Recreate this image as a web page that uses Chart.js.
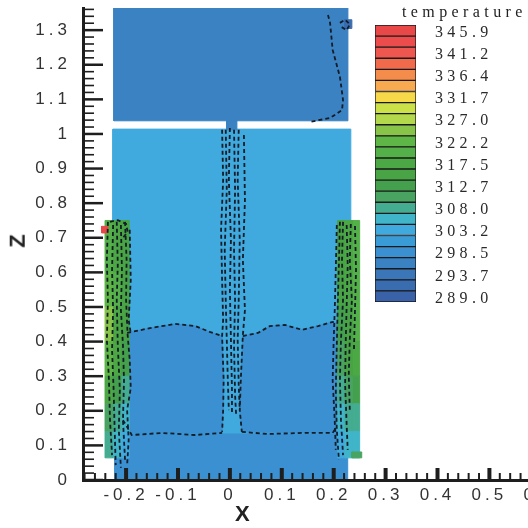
<!DOCTYPE html>
<html>
<head>
<meta charset="utf-8">
<script src="https://cdn.jsdelivr.net/npm/chart.js@4.4.1/dist/chart.umd.min.js"></script>
<style>
    html, body { margin: 0; padding: 0; background: #fff; overflow: hidden; }
    #wrap { position: relative; width: 528px; height: 528px; overflow: hidden; }
    #field { position: absolute; left: 0; top: 0; }
    #key { position: absolute; left: 370px; top: 0; }
    .axis-title { position: absolute; font: bold 22px "Liberation Sans", Arial, sans-serif; line-height: 22px; color: #222; }
    #xTitle { left: 235px; top: 503px; }
    #zTitle { left: 11px; top: 230px; transform: rotate(-90deg); }
    #keyTitle { position: absolute; left: 402px; top: 4px; font: 16px "Liberation Serif", "Times New Roman", serif; line-height: 16px; letter-spacing: 4.4px; color: #222; white-space: nowrap; }
</style>
</head>
<body>
<div id="wrap">
    <canvas id="field" width="560" height="528"></canvas>
    <canvas id="key" width="158" height="320"></canvas>
    <div id="xTitle" class="axis-title">X</div>
    <div id="zTitle" class="axis-title">Z</div>
    <div id="keyTitle">temperature</div>
</div>
<script>
// temperature key, hottest band first
const bandColors = [
    '#e84848', '#ec4c4c', '#ee5650', '#f26a4c', '#f48c4c', '#f8aa50', '#f6d848',
    '#cce048', '#b4d84c', '#88c448', '#5eb646', '#54b048', '#4ca844', '#48a444',
    '#44a04c', '#48a460', '#44ac90', '#40b4c8', '#40aade', '#3a9cd6', '#3a90d0',
    '#3a82c2', '#3a76b8', '#3a6cb0', '#3a62a8'
];
const keyLevels = [345.9, 341.2, 336.4, 331.7, 327.0, 322.2, 317.5, 312.7, 308.0, 303.2, 298.5, 293.7, 289.0];

// axes
const xTicks = [-0.2, -0.1, 0, 0.1, 0.2, 0.3, 0.4, 0.5, 0.6];
const zTicks = [0, 0.1, 0.2, 0.3, 0.4, 0.5, 0.6, 0.7, 0.8, 0.9, 1.0, 1.1, 1.2, 1.3];
const xRange = [-0.283, 0.636];
const zRange = [0, 1.364];

// uniform zones: temperature of each block
const upperTemp = 296.0;
const middleTemp = 303.4;
const lowerTemp = 298.8;
const baseTemp = 299.6;

// heated wall strips: z rows, x columns, temperatures per column (bottom row first)
const stripZ = [0.064, 0.14, 0.22, 0.30, 0.40, 0.50, 0.60, 0.75];
const leftStripX = [-0.240, -0.226, -0.210, -0.194];
const leftStripT = [
    [307, 311, 318, 323, 324, 323, 320],
    [305, 308, 313, 317, 318, 319, 318],
    [304, 305, 309, 312, 314, 316, 316]
];
const rightStripX = [0.208, 0.220, 0.236, 0.250];
const rightStripT = [
    [304, 305, 307, 310, 313, 315, 316],
    [305, 307, 310, 314, 316, 318, 318],
    [306, 309, 313, 317, 319, 320, 319]
];

// isotherms (x, z)
const shelfLeft = [[-0.198, 0.425], [-0.154, 0.439], [-0.106, 0.451], [-0.067, 0.445], [-0.039, 0.428], [-0.015, 0.416]];
const shelfRight = [[0.025, 0.416], [0.054, 0.425], [0.077, 0.445], [0.106, 0.448], [0.139, 0.434], [0.170, 0.445], [0.198, 0.457], [0.204, 0.454]];
const floorLeft = [[-0.206, 0.173], [-0.189, 0.130], [-0.131, 0.136], [-0.067, 0.130], [-0.015, 0.136]];
const floorRight = [[0.023, 0.139], [0.073, 0.133], [0.139, 0.136], [0.198, 0.136], [0.204, 0.150]];
const centreLines = [
    [[-0.015, 1.012], [-0.013, 0.867], [-0.017, 0.723], [-0.015, 0.578], [-0.013, 0.462], [-0.015, 0.416], [-0.012, 0.289], [-0.013, 0.202], [-0.015, 0.139]],
    [[-0.008, 1.012], [-0.006, 0.838], [-0.010, 0.665], [-0.008, 0.520], [-0.006, 0.405], [-0.004, 0.289], [-0.002, 0.202]],
    [[0.000, 1.017], [-0.002, 0.867], [0.002, 0.694], [0.000, 0.549], [0.002, 0.405], [0.004, 0.260], [0.004, 0.188]],
    [[0.008, 1.012], [0.010, 0.838], [0.008, 0.665], [0.010, 0.520], [0.008, 0.390], [0.010, 0.246], [0.012, 0.188]],
    [[0.017, 1.012], [0.015, 0.867], [0.019, 0.694], [0.017, 0.520], [0.015, 0.405], [0.017, 0.275], [0.019, 0.202]],
    [[0.027, 0.997], [0.029, 0.809], [0.025, 0.636], [0.029, 0.491], [0.025, 0.419], [0.021, 0.289], [0.019, 0.202], [0.023, 0.139]]
];
const leftWallLines = [
    [[-0.235, 0.746], [-0.237, 0.636], [-0.235, 0.520], [-0.237, 0.405], [-0.233, 0.289], [-0.231, 0.173], [-0.227, 0.072]],
    [[-0.225, 0.737], [-0.227, 0.607], [-0.225, 0.491], [-0.227, 0.376], [-0.224, 0.260], [-0.222, 0.145], [-0.220, 0.043]],
    [[-0.218, 0.746], [-0.216, 0.621], [-0.218, 0.520], [-0.216, 0.390], [-0.212, 0.260], [-0.214, 0.145], [-0.210, 0.035]],
    [[-0.210, 0.737], [-0.208, 0.607], [-0.210, 0.491], [-0.206, 0.390], [-0.204, 0.289], [-0.206, 0.173], [-0.202, 0.058]],
    [[-0.202, 0.746], [-0.199, 0.636], [-0.200, 0.520], [-0.197, 0.419], [-0.193, 0.347], [-0.191, 0.266], [-0.198, 0.202], [-0.195, 0.116], [-0.198, 0.043]],
    [[-0.193, 0.723], [-0.191, 0.578], [-0.195, 0.462], [-0.191, 0.425]],
    [[-0.231, 0.746], [-0.216, 0.751], [-0.200, 0.740], [-0.197, 0.717], [-0.206, 0.700]]
];
const rightWallLines = [
    [[0.206, 0.737], [0.204, 0.607], [0.202, 0.491], [0.200, 0.405], [0.198, 0.289], [0.202, 0.173], [0.204, 0.087]],
    [[0.212, 0.746], [0.210, 0.621], [0.208, 0.520], [0.206, 0.390], [0.204, 0.260], [0.206, 0.145], [0.210, 0.058]],
    [[0.218, 0.746], [0.216, 0.636], [0.218, 0.520], [0.214, 0.405], [0.212, 0.289], [0.214, 0.173], [0.218, 0.072]],
    [[0.225, 0.737], [0.227, 0.621], [0.225, 0.506], [0.223, 0.390], [0.222, 0.275], [0.225, 0.159], [0.227, 0.087]],
    [[0.233, 0.740], [0.231, 0.636], [0.235, 0.520], [0.231, 0.405], [0.229, 0.303], [0.231, 0.202]],
    [[0.241, 0.734], [0.243, 0.607], [0.241, 0.491], [0.239, 0.376]]
];
const upperLines = [
    [[0.189, 1.344], [0.193, 1.321], [0.198, 1.243], [0.212, 1.165], [0.218, 1.098], [0.216, 1.069], [0.193, 1.046], [0.154, 1.035]],
    [[0.212, 1.321], [0.222, 1.330], [0.231, 1.317], [0.225, 1.300], [0.214, 1.310]]
];

function tempColor(t) {
    const top = keyLevels[0];
    const step = (top - keyLevels[keyLevels.length - 1]) / (bandColors.length - 1);
    const i = Math.round((top - t) / step);
    return bandColors[Math.max(0, Math.min(bandColors.length - 1, i))];
}

const toXY = p => ({x: p[0], y: p[1]});
const fieldSets = [];

function box(x0, x1, z0, z1) {
    return [[x0, z0], [x1, z0], [x1, z1], [x0, z1]];
}

function patch(points, temp, order) {
    const color = tempColor(temp);
    fieldSets.push({
        data: points.concat([points[0]]).map(toXY),
        fill: 'shape',
        backgroundColor: color,
        borderColor: color,
        borderWidth: 1,
        pointRadius: 0,
        order: order
    });
}

function isotherm(points) {
    fieldSets.push({
        data: points.map(toXY),
        fill: false,
        borderColor: '#141c28',
        borderWidth: 1.8,
        borderDash: [4, 3],
        pointRadius: 0,
        order: 0
    });
}

// blocks
patch(box(-0.2235, 0.2274, 1.038, 1.364), upperTemp, 40);
patch(box(-0.006, 0.0135, 1.012, 1.040), upperTemp, 40);
patch(box(-0.2254, 0.233, 0.136, 1.014), middleTemp, 40);
patch(box(-0.2216, 0.227, 0, 0.136), baseTemp, 40);
patch([[-0.2254, 0.425]].concat(shelfLeft, [[-0.012, 0.289], [-0.013, 0.202], [-0.015, 0.136], [-0.2254, 0.136]]), lowerTemp, 30);
patch(shelfRight.concat([[0.233, 0.454], [0.233, 0.136], [0.023, 0.139], [0.019, 0.202], [0.021, 0.289]]), lowerTemp, 30);

// wall strips
function strip(xs, temps) {
    temps.forEach((col, c) => {
        col.forEach((t, r) => patch(box(xs[c], xs[c + 1], stripZ[r], stripZ[r + 1]), t, 20));
    });
}
strip(leftStripX, leftStripT);
strip(rightStripX, rightStripT);

// small hot and cold spots
patch(box(-0.247, -0.235, 0.714, 0.733), 345.0, 10);
patch(box(0.235, 0.254, 0.064, 0.081), 310.0, 10);
patch(box(0.221, 0.235, 1.305, 1.330), 292.5, 10);

[shelfLeft, shelfRight, floorLeft, floorRight].forEach(isotherm);
centreLines.forEach(isotherm);
leftWallLines.forEach(isotherm);
rightWallLines.forEach(isotherm);
upperLines.forEach(isotherm);

const fmt = v => String(+v.toFixed(1));
const tickFont = {family: '"Liberation Sans Narrow", "Liberation Sans", Arial, sans-serif', size: 17};

// canvas letter spacing for the spaced-out labels
const spacing = {
    id: 'spacing',
    beforeLayout(chart, args, opts) { chart.ctx.letterSpacing = opts.px + 'px'; },
    beforeDraw(chart, args, opts) { chart.ctx.letterSpacing = opts.px + 'px'; }
};

// inward tick marks, long on the labelled values, short every 0.02
const axisMarks = {
    id: 'axisMarks',
    afterDraw(chart) {
        const {ctx, chartArea, scales: {x, y}} = chart;
        ctx.save();
        ctx.strokeStyle = '#1e1e1e';
        const tick = (x0, y0, x1, y1, w) => {
            ctx.lineWidth = w;
            ctx.beginPath();
            ctx.moveTo(x0, y0);
            ctx.lineTo(x1, y1);
            ctx.stroke();
        };
        for (let i = Math.ceil(xRange[0] / 0.02); i <= Math.floor(xRange[1] / 0.02); i++) {
            if (i % 5 === 0) continue;
            const px = x.getPixelForValue(i * 0.02);
            tick(px, chartArea.bottom, px, chartArea.bottom - 7, 2);
        }
        xTicks.forEach(v => {
            const px = x.getPixelForValue(v);
            tick(px, chartArea.bottom, px, chartArea.bottom - 12, 4);
        });
        for (let i = 1; i <= Math.floor(zRange[1] / 0.02); i++) {
            if (i % 5 === 0) continue;
            const py = y.getPixelForValue(i * 0.02);
            tick(chartArea.left, py, chartArea.left + 11, py, 1.6);
        }
        zTicks.forEach(v => {
            const py = y.getPixelForValue(v);
            tick(chartArea.left, py, chartArea.left + 20, py, 2.5);
        });
        ctx.restore();
    }
};

new Chart(document.getElementById('field'), {
    type: 'line',
    data: {datasets: fieldSets},
    options: {
        responsive: false,
        animation: false,
        events: [],
        layout: {autoPadding: false, padding: {top: 8, left: 0, right: 0, bottom: 0}},
        plugins: {legend: {display: false}, tooltip: {enabled: false}, spacing: {px: 4}},
        elements: {line: {tension: 0}},
        scales: {
            x: {
                type: 'linear',
                min: xRange[0],
                max: xRange[1],
                grid: {drawOnChartArea: false, drawTicks: false},
                border: {display: true, width: 3, color: '#1e1e1e', z: 1},
                afterBuildTicks: scale => { scale.ticks = xTicks.map(value => ({value})); },
                afterFit: scale => {
                    scale.height = 48;
                    scale.paddingLeft = 0;
                    scale.paddingRight = 0;
                },
                ticks: {autoSkip: false, maxRotation: 0, padding: 5, color: '#333', font: tickFont, callback: v => fmt(v)}
            },
            y: {
                type: 'linear',
                min: zRange[0],
                max: zRange[1],
                grid: {drawOnChartArea: false, drawTicks: false},
                border: {display: true, width: 3, color: '#1e1e1e', z: 1},
                afterBuildTicks: scale => { scale.ticks = zTicks.map(value => ({value})); },
                afterFit: scale => {
                    scale.width = 83;
                    scale.paddingTop = 0;
                    scale.paddingBottom = 0;
                },
                ticks: {autoSkip: false, padding: 12, color: '#333', font: tickFont, callback: v => fmt(v)}
            }
        }
    },
    plugins: [spacing, axisMarks]
});

// colour key: one stacked bar, coldest band at the bottom
const keyBands = bandColors.slice().reverse();
new Chart(document.getElementById('key'), {
    type: 'bar',
    data: {
        labels: [''],
        datasets: keyBands.map(c => ({
            data: [1],
            backgroundColor: c,
            borderColor: '#1a1a1a',
            borderWidth: 1,
            borderSkipped: false,
            barPercentage: 1,
            categoryPercentage: 1
        }))
    },
    options: {
        responsive: false,
        animation: false,
        events: [],
        layout: {autoPadding: false, padding: {left: 5, top: 25, bottom: 18, right: 0}},
        plugins: {legend: {display: false}, tooltip: {enabled: false}, spacing: {px: 4.3}},
        scales: {
            x: {stacked: true, display: false},
            y: {
                stacked: true,
                position: 'right',
                min: 0,
                max: keyBands.length,
                grid: {display: false, drawTicks: false},
                border: {display: false},
                afterBuildTicks: scale => {
                    scale.ticks = keyLevels.map((v, k) => ({value: keyBands.length - 0.5 - 2 * k}));
                },
                afterFit: scale => {
                    scale.width = 112;
                    scale.paddingTop = 0;
                    scale.paddingBottom = 0;
                },
                ticks: {
                    padding: 19,
                    labelOffset: 2,
                    color: '#2a2a2a',
                    font: {family: '"Liberation Serif", "Times New Roman", serif', size: 16},
                    callback: v => keyLevels[Math.round((keyBands.length - 0.5 - v) / 2)].toFixed(1)
                }
            }
        }
    },
    plugins: [spacing]
});
</script>
</body>
</html>
